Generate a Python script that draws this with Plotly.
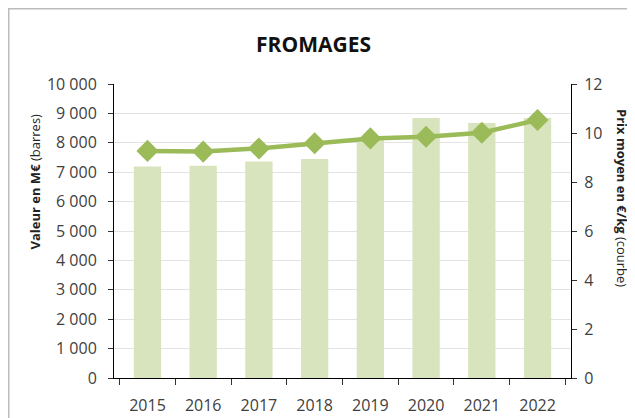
import plotly.graph_objects as go

years = ["2015", "2016", "2017", "2018", "2019", "2020", "2021", "2022"]
valeur = [7190, 7220, 7360, 7450, 8120, 8840, 8670, 8840]
prix = [9.27, 9.24, 9.37, 9.58, 9.78, 9.85, 10.01, 10.53]

bar_color = "#d7e4bd"
line_color = "#9bbb59"
text_color = "#404040"
font_family = "'Open Sans', sans-serif"

fig = go.Figure()
fig.add_trace(go.Bar(x=years, y=valeur, marker=dict(color=bar_color, line=dict(width=0)),
                     yaxis="y", showlegend=False, hoverinfo="skip"))
fig.add_trace(go.Scatter(x=years, y=prix, yaxis="y2", mode="lines+markers",
                         line=dict(color=line_color, width=4.5),
                         marker=dict(symbol="diamond", size=17, color=line_color),
                         showlegend=False))

# page body has an 8px margin; coordinates below are relative to the figure
W, H = 627, 410
L, R, T, B = 106, 64, 76, 40
pw, ph = W - L - R, H - T - B

def px(xpix):
    return (xpix - L) / pw

def py(ypix):
    return (H - B - ypix) / ph

fig.update_layout(
    width=W, height=H,
    margin=dict(l=L, r=R, t=T, b=B, autoexpand=False),
    paper_bgcolor="white", plot_bgcolor="white",
    separators=", ",
    font=dict(family=font_family, color=text_color),
    bargap=0.51,
    title=dict(text="<b>FROMAGES</b>", x=305.5 / W, xanchor="center", y=1 - 37 / H, yanchor="middle",
               automargin=False,
               font=dict(size=21, color="#111111", family=font_family)),
    xaxis=dict(type="category", showline=True, linecolor="black", linewidth=1, automargin=False,
               ticks="outside", tickson="boundaries", ticklen=6, tickcolor="#333333",
               ticklabelstandoff=13,
               tickfont=dict(size=16, color=text_color), showgrid=False),
    yaxis=dict(range=[0, 10000], dtick=1000, tickformat=",d", showline=True, automargin=False,
               linecolor="black", linewidth=1, ticks="outside", ticklen=5, tickcolor="#333333",
               ticklabelstandoff=8,
               tickfont=dict(size=16, color=text_color), showgrid=True, gridcolor="#e3e3e3",
               zeroline=False),
    yaxis2=dict(range=[0, 12], dtick=2, overlaying="y", side="right", showline=True, automargin=False,
                linecolor="black", linewidth=1, ticks="outside", ticklen=5, tickcolor="#333333",
                ticklabelstandoff=4,
                tickfont=dict(size=16, color=text_color), showgrid=False, zeroline=False),
    annotations=[
        dict(text="<b>Valeur en M€</b> (barres)", xref="paper", yref="paper",
             x=px(26), y=py(173.5), xanchor="center", yanchor="middle",
             textangle=-90, showarrow=False,
             font=dict(size=13, color="#222222")),
        dict(text="<b>Prix moyen en €/kg</b> (courbe)", xref="paper", yref="paper",
             x=px(614.5), y=py(189.5), xanchor="center", yanchor="middle",
             textangle=90, showarrow=False,
             font=dict(size=13, color="#222222")),
    ],
    shapes=[
        dict(type="line", xref="paper", yref="paper", x0=px(0), x1=px(W), y0=py(0.75), y1=py(0.75),
             line=dict(color="#bbbbbb", width=1.5)),
        dict(type="line", xref="paper", yref="paper", x0=px(0.75), x1=px(0.75), y0=py(0), y1=py(H),
             line=dict(color="#bbbbbb", width=1.5)),
    ],
)

fig.write_html("out.html")
